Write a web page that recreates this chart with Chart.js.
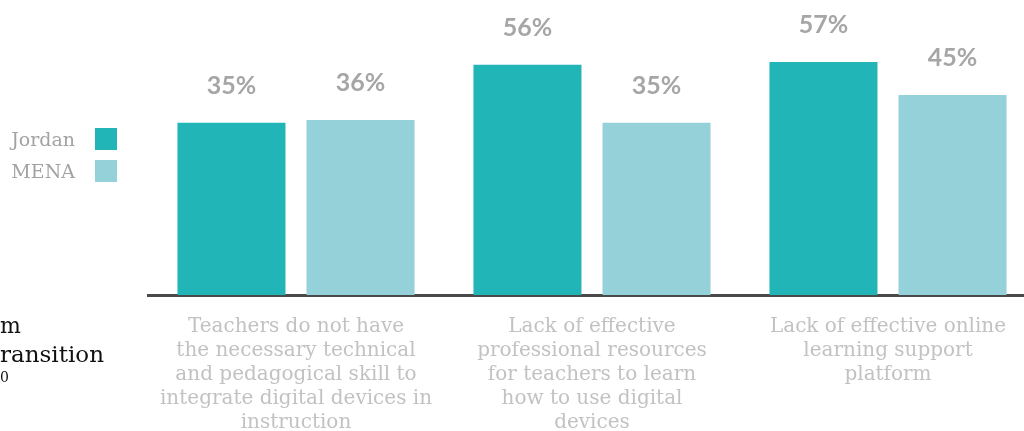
<!DOCTYPE html>
<html>
<head>
<meta charset="utf-8">
<script src="https://cdn.jsdelivr.net/npm/chart.js@4/dist/chart.umd.min.js"></script>
<style>
    html, body { margin: 0; padding: 0; background: #fff; overflow: hidden; }
    #wrap { position: relative; width: 1024px; height: 431px; overflow: hidden; }
    #box { position: absolute; left: 0; top: 0; width: 1040px; height: 431px; }
    #legend { position: absolute; left: 0; top: 123px; font-family: "DejaVu Serif", serif; font-size: 19px; color: #a3a3a3; }
    .item { display: flex; align-items: center; justify-content: flex-end; width: 117px; height: 32px; }
    .item span.sw { display: inline-block; width: 22px; height: 22px; margin-left: 20px; }
    .cut { position: absolute; left: 0; color: #111; font-family: "DejaVu Serif", serif; white-space: nowrap; }
</style>
</head>
<body>
<div id="wrap">
    <div id="box"><canvas id="chart"></canvas></div>
    <div id="legend"></div>
    <div class="cut" data-hide="7" style="top:313px; font-size:22px;">Platform</div>
    <div class="cut" data-hide="1" style="top:341px; font-size:23px;">Transition</div>
    <div class="cut" data-hide="3" style="top:369px; font-size:14px;">2020</div>
</div>
<script>
// chart data
const categories = [
    ['Teachers do not have', 'the necessary technical', 'and pedagogical skill to', 'integrate digital devices in', 'instruction'],
    ['Lack of effective', 'professional resources', 'for teachers to learn', 'how to use digital', 'devices'],
    ['Lack of effective online', 'learning support', 'platform']
];
const seriesNames = ['Jordan', 'MENA'];
const jordanValues = [35, 56, 57];
const menaValues = [36, 35, 45];
const seriesColors = ['#22b5b7', '#95d1d8'];

// value axis range (bars start from the bottom of the axis)
const yMin = -27.3;
const yMax = 79.4;

// legend on the left: label then swatch
const legend = document.getElementById('legend');
seriesNames.forEach(function(name, i) {
    const row = document.createElement('div');
    row.className = 'item';
    row.innerHTML = '<span>' + name + '</span><span class="sw" style="background:' + seriesColors[i] + '"></span>';
    legend.appendChild(row);
});

// text cut off by the left edge: shift each line so only its tail shows
document.querySelectorAll('.cut').forEach(function(el) {
    const n = parseInt(el.dataset.hide, 10);
    const probe = document.createElement('span');
    probe.textContent = el.textContent.slice(0, n);
    probe.style.visibility = 'hidden';
    el.textContent = el.textContent.slice(n);
    el.insertBefore(probe, el.firstChild);
    el.style.left = -probe.getBoundingClientRect().width + 'px';
    probe.style.visibility = 'visible';
});

// draw percentage labels above the bars
const valueLabels = {
    id: 'valueLabels',
    afterDatasetsDraw(chart) {
        const ctx = chart.ctx;
        ctx.save();
        ctx.font = 'bold 25px Lato';
        ctx.fillStyle = '#a6a6a6';
        ctx.textAlign = 'center';
        ctx.textBaseline = 'middle';
        chart.data.datasets.forEach(function(ds, i) {
            chart.getDatasetMeta(i).data.forEach(function(bar, j) {
                ctx.fillText(ds.data[j] + '%', bar.x, bar.y - 37);
            });
        });
        ctx.restore();
    }
};

const ctx = document.getElementById('chart').getContext('2d');
new Chart(ctx, {
    type: 'bar',
    data: {
        labels: categories,
        datasets: [
            {
                label: seriesNames[0],
                data: jordanValues,
                backgroundColor: seriesColors[0],
                base: yMin
            },
            {
                label: seriesNames[1],
                data: menaValues,
                backgroundColor: seriesColors[1],
                base: yMin
            }
        ]
    },
    options: {
        responsive: true,
        maintainAspectRatio: false,
        animation: false,
        categoryPercentage: 0.872,
        barPercentage: 0.837,
        layout: {
            padding: { left: 148, right: 4, top: 0, bottom: 0 }
        },
        plugins: {
            legend: { display: false },
            tooltip: { enabled: false }
        },
        scales: {
            x: {
                z: 1,
                grid: { display: false, drawTicks: false },
                border: { display: true, color: '#4a4a4a', width: 3 },
                ticks: {
                    color: '#c2c2c2',
                    padding: 20,
                    maxRotation: 0,
                    autoSkip: false,
                    font: { family: 'DejaVu Serif', size: 20, lineHeight: 1.2 }
                },
                afterFit(scale) {
                    scale.height = 136;
                }
            },
            y: {
                display: false,
                min: yMin,
                max: yMax
            }
        }
    },
    plugins: [valueLabels]
});
</script>
</body>
</html>
